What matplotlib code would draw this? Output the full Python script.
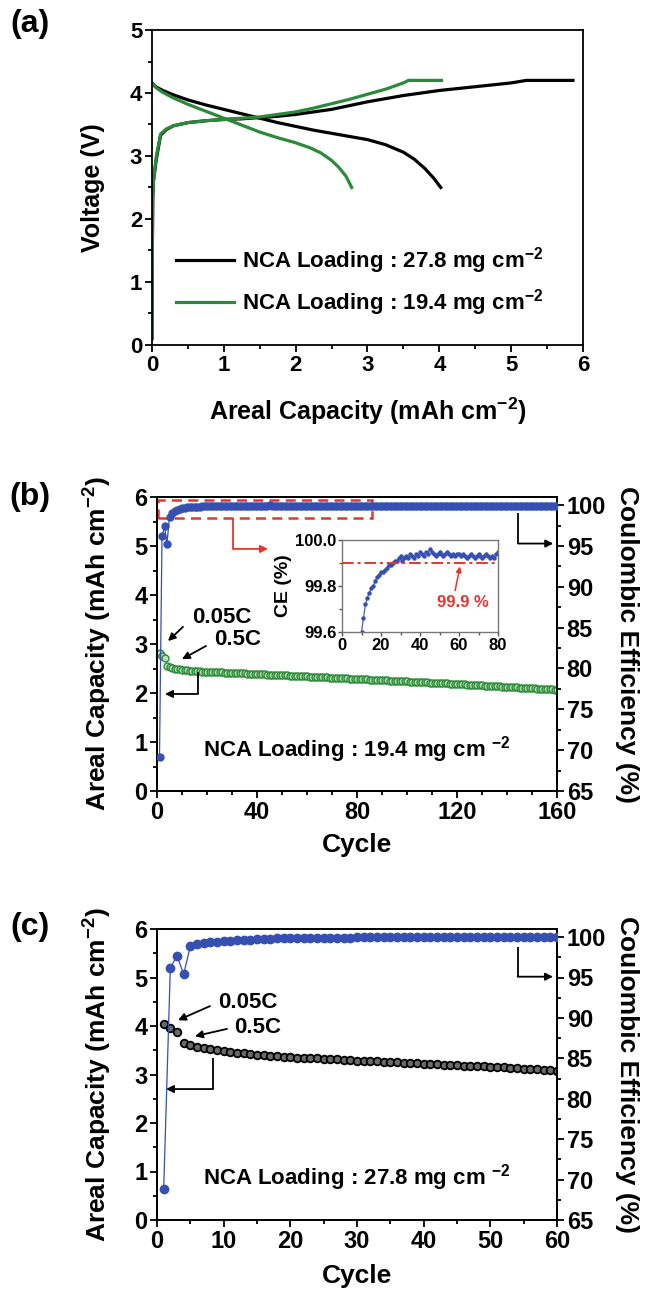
import matplotlib
matplotlib.use("Agg")
import matplotlib.pyplot as plt
from matplotlib.ticker import MultipleLocator
from matplotlib.patches import Rectangle

plt.rcParams["font.family"] = ["Liberation Sans", "DejaVu Sans"]
plt.rcParams["font.weight"] = "bold"
plt.rcParams["axes.labelweight"] = "bold"
plt.rcParams["mathtext.fontset"] = "custom"
plt.rcParams["mathtext.bf"] = "Liberation Sans:bold"
plt.rcParams["mathtext.rm"] = "Liberation Sans:bold"
plt.rcParams["mathtext.default"] = "bf"

# ---------------- (a) charge / discharge profiles ----------------
cap_chg_278 = [0.0, 0.005, 0.01, 0.02, 0.06, 0.12, 0.2, 0.3, 0.5, 0.75, 1.0, 1.25, 1.5, 1.75,
               2.0, 2.25, 2.5, 2.75, 3.0, 3.25, 3.5, 3.75, 4.0, 4.25, 4.5, 4.75, 5.0, 5.21,
               5.5, 5.86]
v_chg_278 = [0.10, 1.5, 2.3, 2.6, 2.95, 3.33, 3.42, 3.48, 3.53, 3.56, 3.58, 3.59, 3.61, 3.63,
             3.66, 3.70, 3.74, 3.80, 3.86, 3.91, 3.96, 4.00, 4.04, 4.07, 4.10, 4.13, 4.16, 4.20,
             4.20, 4.20]
cap_dis_278 = [0.0, 0.05, 0.15, 0.3, 0.5, 0.75, 1.0, 1.25, 1.5, 1.75, 2.0, 2.25, 2.5, 2.75,
               3.0, 3.25, 3.5, 3.65, 3.8, 3.92, 4.02]
v_dis_278 = [4.16, 4.10, 4.04, 3.97, 3.89, 3.81, 3.74, 3.67, 3.60, 3.53, 3.47, 3.41, 3.36, 3.31,
             3.26, 3.18, 3.06, 2.95, 2.80, 2.65, 2.50]

cap_chg_194 = [0.0, 0.005, 0.01, 0.02, 0.06, 0.12, 0.2, 0.3, 0.5, 0.75, 1.0, 1.25, 1.5, 1.75,
               2.0, 2.25, 2.5, 2.75, 3.0, 3.25, 3.5, 3.57, 4.03]
v_chg_194 = [0.15, 1.5, 2.3, 2.6, 3.0, 3.35, 3.43, 3.48, 3.53, 3.56, 3.58, 3.60, 3.62, 3.66,
             3.70, 3.76, 3.83, 3.90, 3.98, 4.06, 4.16, 4.20, 4.20]
cap_dis_194 = [0.0, 0.05, 0.15, 0.3, 0.5, 0.75, 1.0, 1.25, 1.5, 1.75, 2.0, 2.2, 2.35, 2.5,
               2.6, 2.7, 2.78]
v_dis_194 = [4.16, 4.09, 4.01, 3.92, 3.82, 3.71, 3.60, 3.49, 3.38, 3.29, 3.21, 3.13, 3.05, 2.93,
             2.82, 2.68, 2.50]

# ---------------- (b) cycling, 19.4 mg cm-2 ----------------
cycles_b = list(range(1, 161))
cap_b = [2.82, 2.76, 2.72,
         2.56, 2.53, 2.51, 2.50, 2.49, 2.48, 2.47, 2.46, 2.46, 2.45, 2.45, 2.44, 2.44, 2.44,
         2.43, 2.43, 2.43,
         2.43, 2.42, 2.42, 2.42, 2.42, 2.42, 2.41, 2.41, 2.41, 2.41,
         2.41, 2.40, 2.40, 2.40, 2.40, 2.39, 2.39, 2.39, 2.39, 2.38,
         2.38, 2.38, 2.38, 2.37, 2.37, 2.37, 2.37, 2.36, 2.36, 2.36,
         2.36, 2.36, 2.35, 2.35, 2.35, 2.35, 2.34, 2.34, 2.34, 2.34,
         2.33, 2.33, 2.33, 2.33, 2.32, 2.32, 2.32, 2.32, 2.31, 2.31,
         2.31, 2.31, 2.30, 2.30, 2.30, 2.30, 2.29, 2.29, 2.29, 2.29,
         2.28, 2.28, 2.28, 2.28, 2.27, 2.27, 2.27, 2.27, 2.26, 2.26,
         2.26, 2.26, 2.25, 2.25, 2.25, 2.25, 2.24, 2.24, 2.24, 2.24,
         2.23, 2.23, 2.23, 2.23, 2.22, 2.22, 2.22, 2.22, 2.21, 2.21,
         2.21, 2.21, 2.20, 2.20, 2.20, 2.20, 2.19, 2.19, 2.19, 2.18,
         2.18, 2.18, 2.18, 2.17, 2.17, 2.17, 2.16, 2.16, 2.16, 2.16,
         2.15, 2.15, 2.15, 2.14, 2.14, 2.14, 2.14, 2.13, 2.13, 2.13,
         2.12, 2.12, 2.12, 2.12, 2.11, 2.11, 2.11, 2.10, 2.10, 2.10,
         2.10, 2.09, 2.09, 2.09, 2.08, 2.08, 2.08, 2.08, 2.07, 2.07]
ce_b = [69.2, 96.2, 97.4, 95.3, 98.6, 99.05, 99.30, 99.45, 99.55, 99.60,
        99.66, 99.72, 99.75, 99.77, 99.79, 99.80, 99.82, 99.84, 99.85, 99.86,
        99.86, 99.87, 99.88, 99.89, 99.89, 99.90, 99.91, 99.91, 99.92, 99.93,
        99.91, 99.92, 99.93, 99.92, 99.94, 99.93, 99.92, 99.94, 99.93, 99.95,
        99.94, 99.93, 99.95, 99.94, 99.96, 99.95, 99.94, 99.93, 99.94, 99.95,
        99.94, 99.93, 99.94, 99.95, 99.94, 99.93, 99.94, 99.93, 99.94, 99.94,
        99.93, 99.94, 99.93, 99.92, 99.93, 99.94, 99.93, 99.92, 99.93, 99.94,
        99.93, 99.92, 99.93, 99.94, 99.93, 99.92, 99.93, 99.92, 99.94, 99.95,
        99.93, 99.92, 99.94, 99.93, 99.91, 99.93, 99.94, 99.92, 99.93, 99.95,
        99.92, 99.93, 99.94, 99.92, 99.91, 99.93, 99.94, 99.93, 99.92, 99.94,
        99.93, 99.91, 99.92, 99.94, 99.93, 99.92, 99.95, 99.93, 99.92, 99.93,
        99.94, 99.92, 99.91, 99.93, 99.94, 99.92, 99.93, 99.95, 99.92, 99.93,
        99.92, 99.94, 99.93, 99.91, 99.93, 99.92, 99.94, 99.93, 99.92, 99.93,
        99.95, 99.92, 99.93, 99.94, 99.92, 99.91, 99.93, 99.94, 99.92, 99.93,
        99.92, 99.94, 99.93, 99.92, 99.93, 99.95, 99.92, 99.93, 99.94, 99.92,
        99.93, 99.92, 99.94, 99.93, 99.91, 99.93, 99.94, 99.92, 99.93, 99.94]
ce_target = 99.9

# ---------------- (c) cycling, 27.8 mg cm-2 ----------------
cycles_c = list(range(1, 61))
cap_c = [4.05, 3.95, 3.88, 3.65, 3.60, 3.57, 3.55, 3.52, 3.50, 3.48,
         3.47, 3.45, 3.44, 3.42, 3.41, 3.40, 3.39, 3.38, 3.37, 3.36,
         3.35, 3.34, 3.34, 3.33, 3.32, 3.31, 3.31, 3.30, 3.29, 3.28,
         3.28, 3.27, 3.27, 3.26, 3.25, 3.25, 3.24, 3.23, 3.23, 3.22,
         3.21, 3.21, 3.20, 3.20, 3.19, 3.18, 3.18, 3.17, 3.17, 3.16,
         3.15, 3.15, 3.14, 3.13, 3.12, 3.12, 3.11, 3.10, 3.09, 3.08]
ce_c = [68.8, 96.2, 97.7, 95.4, 98.9, 99.10, 99.25, 99.35, 99.42, 99.48,
        99.54, 99.60, 99.65, 99.70, 99.74, 99.77, 99.80, 99.83, 99.86, 99.88,
        99.89, 99.90, 99.91, 99.92, 99.92, 99.93, 99.93, 99.94, 99.94, 99.95,
        99.95, 99.95, 99.96, 99.96, 99.96, 99.96, 99.97, 99.97, 99.97, 99.97,
        99.97, 99.97, 99.97, 99.97, 99.97, 99.97, 99.97, 99.97, 99.97, 99.97,
        99.97, 99.97, 99.97, 99.97, 99.97, 99.97, 99.97, 99.97, 99.97, 99.97]

GREEN = "#2b8a3a"
GREEN_FACE = "#b9dfb3"
BLUE = "#3550b0"
RED = "#e8352b"

W, H = 648, 1291
fig = plt.figure(figsize=(W / 100, H / 100), dpi=100)


def px_axes(left, top, right, bottom):
    return fig.add_axes([left / W, 1 - bottom / H, (right - left) / W, (bottom - top) / H])


def style(ax, size=16):
    for s in ax.spines.values():
        s.set_linewidth(1.3)
    ax.tick_params(which="both", direction="out", width=1.3, labelsize=size, pad=2)
    ax.tick_params(which="major", length=5)
    ax.tick_params(which="minor", length=3)


def elbow(ax, pts, color="black", lw=1.3):
    xs = [p[0] for p in pts[:-1]]
    ys = [p[1] for p in pts[:-1]]
    ax.plot(xs, ys, color=color, lw=lw, solid_capstyle="butt", zorder=6)
    ax.annotate("", xy=pts[-1], xytext=pts[-2],
                arrowprops=dict(arrowstyle="-|>", color=color, lw=lw,
                                mutation_scale=11, shrinkA=0, shrinkB=0), zorder=6)


def pointer(ax, start, end):
    ax.annotate("", xy=end, xytext=start,
                arrowprops=dict(arrowstyle="-|>", color="black", lw=1.3,
                                mutation_scale=11, shrinkA=0, shrinkB=0))


def centre_ylabel(ax, x):
    ax.yaxis.label.set_verticalalignment("center")
    ax.yaxis.set_label_coords(x, 0.5)


# ================= panel (a) =================
axa = px_axes(152, 30, 583, 345)
axa.plot(cap_chg_278, v_chg_278, color="black", lw=2.3,
         label=r"NCA Loading : 27.8 mg cm$^{-2}$")
axa.plot(cap_dis_278, v_dis_278, color="black", lw=2.3)
axa.plot(cap_chg_194, v_chg_194, color=GREEN, lw=2.3,
         label=r"NCA Loading : 19.4 mg cm$^{-2}$")
axa.plot(cap_dis_194, v_dis_194, color=GREEN, lw=2.3)
axa.set_xlim(0, 6)
axa.set_ylim(0, 5)
axa.xaxis.set_major_locator(MultipleLocator(1))
axa.xaxis.set_minor_locator(MultipleLocator(0.5))
axa.yaxis.set_major_locator(MultipleLocator(1))
axa.yaxis.set_minor_locator(MultipleLocator(0.5))
style(axa)
axa.set_xlabel(r"Areal Capacity (mAh cm$^{-2}$)", fontsize=18)
axa.set_ylabel("Voltage (V)", fontsize=18)
axa.xaxis.set_label_coords(0.5, -0.162)
centre_ylabel(axa, -0.137)
axa.legend(loc="lower left", bbox_to_anchor=(0.03, 0.05), frameon=False, fontsize=16,
           handlelength=2.6, handletextpad=0.35, labelspacing=0.5, borderpad=0)

# ================= panel (b) =================
axb = px_axes(157, 497, 557, 791)
axb.plot(cycles_b, cap_b, "o", ms=5, mfc=GREEN_FACE, mec=GREEN, mew=1.0, zorder=3)
axb.set_xlim(0, 160)
axb.set_ylim(0, 6)
axb.xaxis.set_major_locator(MultipleLocator(40))
axb.xaxis.set_minor_locator(MultipleLocator(10))
axb.yaxis.set_major_locator(MultipleLocator(1))
axb.yaxis.set_minor_locator(MultipleLocator(0.5))
style(axb, 17)
axb.set_xlabel("Cycle", fontsize=19)
axb.set_ylabel(r"Areal Capacity (mAh cm$^{-2}$)", fontsize=19)
axb.xaxis.set_label_coords(0.5, -0.143)
centre_ylabel(axb, -0.1475)

axb2 = axb.twinx()
axb2.plot(cycles_b, ce_b, "-", color=BLUE, lw=0.9, zorder=4)
axb2.plot(cycles_b, ce_b, "o", ms=5, color=BLUE, mec=BLUE, zorder=5)
axb2.set_ylim(65, 101)
axb2.yaxis.set_major_locator(MultipleLocator(5))
axb2.yaxis.set_minor_locator(MultipleLocator(2.5))
style(axb2, 17)
axb2.set_ylabel("Coulombic Efficiency (%)", fontsize=19, rotation=270)
centre_ylabel(axb2, 1.175)

axb.text(80, 0.84, r"NCA Loading : 19.4 mg cm $^{-2}$", fontsize=16,
         ha="center", va="center", zorder=8)
axb.text(26, 3.55, "0.05C", fontsize=16, ha="center", va="center")
axb.text(32.4, 3.10, "0.5C", fontsize=16, ha="center", va="center")
pointer(axb, (10.4, 3.35), (4.4, 3.06))
pointer(axb, (19.6, 2.96), (10.0, 2.69))
elbow(axb, [(16.4, 2.43), (16.4, 1.98), (3.2, 1.98)])
elbow(axb2, [(144.4, 99.0), (144.4, 95.3), (158.5, 95.3)])

# dashed box marking the CE region shown enlarged
axb.add_patch(Rectangle((0.5, 5.57), 85.5, 0.37, fill=False, ec=RED, lw=1.8,
                        ls=(0, (4, 2.5)), zorder=7))
elbow(axb, [(30.4, 5.57), (30.4, 4.94), (44.4, 4.94)], color=RED)

# inset: CE detail
axi = fig.add_axes([342 / W, 1 - 632 / H, 156 / W, 92 / H])
axi.plot(cycles_b[:80], ce_b[:80], "-", color=BLUE, lw=0.8)
axi.plot(cycles_b[:80], ce_b[:80], "o", ms=2.2, color=BLUE)
axi.axhline(ce_target, color=RED, lw=1.4, ls=(0, (6, 2, 1.5, 2)), zorder=4)
axi.set_xlim(0, 80)
axi.set_ylim(99.6, 100.0)
axi.xaxis.set_major_locator(MultipleLocator(20))
axi.xaxis.set_minor_locator(MultipleLocator(10))
axi.yaxis.set_minor_locator(MultipleLocator(0.1))
axi.set_yticks([99.6, 99.8, 100.0])
axi.set_yticklabels(["99.6", "99.8", "100.0"])
for s in axi.spines.values():
    s.set_linewidth(1.0)
    s.set_color("#777777")
axi.tick_params(which="both", direction="out", width=1.0, labelsize=12, pad=1,
                color="#555555")
axi.tick_params(which="major", length=3)
axi.tick_params(which="minor", length=2)
axi.set_ylabel("CE (%)", fontsize=14, labelpad=2)
axi.text(62, 99.73, "99.9 %", color=RED, fontsize=12, ha="center", va="center")
axi.annotate("", xy=(60.5, 99.885), xytext=(58, 99.78),
             arrowprops=dict(arrowstyle="-|>", color=RED, lw=1.1, mutation_scale=8,
                             shrinkA=0, shrinkB=0))

# ================= panel (c) =================
axc = px_axes(157, 929, 557, 1220)
axc.plot(cycles_c, cap_c, "o", ms=5.5, mfc="#6a6a6a", mec="black", mew=1.3, zorder=3)
axc.set_xlim(0, 60)
axc.set_ylim(0, 6)
axc.xaxis.set_major_locator(MultipleLocator(10))
axc.xaxis.set_minor_locator(MultipleLocator(5))
axc.yaxis.set_major_locator(MultipleLocator(1))
axc.yaxis.set_minor_locator(MultipleLocator(0.5))
style(axc, 17)
axc.set_xlabel("Cycle", fontsize=19)
axc.set_ylabel(r"Areal Capacity (mAh cm$^{-2}$)", fontsize=19)
axc.xaxis.set_label_coords(0.5, -0.151)
centre_ylabel(axc, -0.1475)

axc2 = axc.twinx()
axc2.plot(cycles_c, ce_c, "-", color=BLUE, lw=0.9, zorder=4)
axc2.plot(cycles_c, ce_c, "o", ms=6, color=BLUE, zorder=5)
axc2.set_ylim(65, 101)
axc2.yaxis.set_major_locator(MultipleLocator(5))
axc2.yaxis.set_minor_locator(MultipleLocator(2.5))
style(axc2, 17)
axc2.set_ylabel("Coulombic Efficiency (%)", fontsize=19, rotation=270)
centre_ylabel(axc2, 1.175)

axc.text(30, 0.87, r"NCA Loading : 27.8 mg cm $^{-2}$", fontsize=16,
         ha="center", va="center", zorder=8)
axc.text(13.6, 4.49, "0.05C", fontsize=16, ha="center", va="center")
axc.text(15.1, 3.96, "0.5C", fontsize=16, ha="center", va="center")
pointer(axc, (7.95, 4.41), (3.15, 4.12))
pointer(axc, (10.5, 3.94), (5.7, 3.79))
elbow(axc, [(8.4, 3.34), (8.4, 2.70), (1.35, 2.70)])
elbow(axc2, [(54.1, 98.8), (54.1, 95.1), (59.4, 95.1)])

# panel letters
for txt, ypx in (("(a)", 24), ("(b)", 497), ("(c)", 927)):
    fig.text(30 / W, 1 - ypx / H, txt, fontsize=23, ha="center", va="center")

fig.savefig("out.png", dpi=100)
